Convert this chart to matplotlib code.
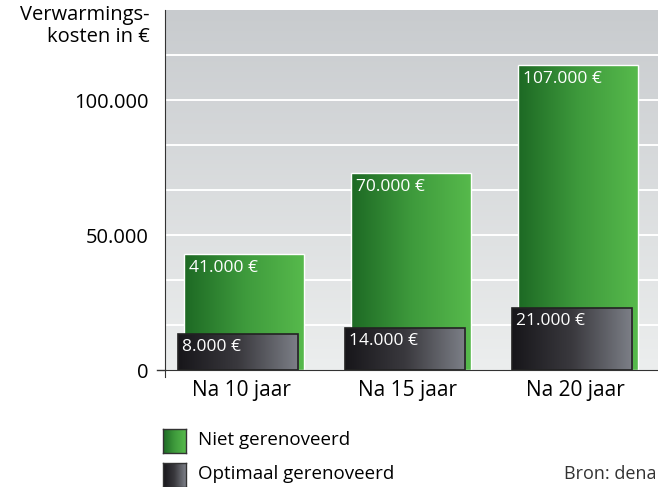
import numpy as np
import matplotlib.pyplot as plt
from matplotlib.colors import LinearSegmentedColormap
from matplotlib.patches import Rectangle

plt.rcParams['font.family'] = ['Open Sans', 'DejaVu Sans']

# data
categories = ['Na 10 jaar', 'Na 15 jaar', 'Na 20 jaar']
niet_labels = ['41.000 €', '70.000 €', '107.000 €']
optimaal_labels = ['8.000 €', '14.000 €', '21.000 €']
# bar heights as drawn in the original graphic
niet_heights = [43000, 73000, 113000]
optimaal_heights = [13300, 15500, 23000]
ytick_values = [0, 50000, 100000]
ytick_labels = ['0', '50.000', '100.000']

green_cmap = LinearSegmentedColormap.from_list('green', ['#1d6924', '#3e9a3c', '#57ba4c'])
dark_cmap = LinearSegmentedColormap.from_list('dark', ['#17161a', '#3a393e', '#7d8088'])
bg_cmap = LinearSegmentedColormap.from_list('bg', ['#eceeee', '#c8cbce'])

grad = np.linspace(0, 1, 256).reshape(1, -1)

fig = plt.figure(figsize=(6.58, 4.87), dpi=100)
ax = fig.add_axes([165 / 658, 117 / 487, 493 / 658, 360 / 487])

ymax = 400000 / 3
xlim = (-0.455, 2.497)

# background gradient
ax.imshow(np.linspace(0, 1, 256).reshape(-1, 1), cmap=bg_cmap, aspect='auto',
          extent=(xlim[0], xlim[1], 0, ymax), origin='lower', zorder=0)
for g in np.arange(1, 8) * 50000 / 3:
    ax.axhline(g, color='white', lw=1.4, zorder=1)

width = 0.72
x = np.arange(len(categories))

def gradient_bar(xc, h, cmap, edge, lw, z):
    x0 = xc - width / 2
    rect = Rectangle((x0, 0), width, h, fill=False, ec=edge, lw=lw, zorder=z + 0.5)
    ax.add_patch(rect)
    im = ax.imshow(grad, cmap=cmap, aspect='auto',
                   extent=(x0, x0 + width, -3000, h + 3000), zorder=z)
    im.set_clip_path(rect)

for i in range(len(categories)):
    gradient_bar(x[i] + 0.018, niet_heights[i], green_cmap, 'white', 1.0, 2)
    ax.text(x[i] + 0.018 - width / 2 + 0.03, niet_heights[i] - 2200, niet_labels[i],
            color='white', fontsize=12.5, va='top', ha='left', zorder=3)
for i in range(len(categories)):
    gradient_bar(x[i] - 0.016, optimaal_heights[i], dark_cmap, '#222222', 1.2, 4)
    ax.text(x[i] - 0.016 - width / 2 + 0.025, optimaal_heights[i] - 1800, optimaal_labels[i],
            color='white', fontsize=12.5, va='top', ha='left', zorder=5)

ax.set_xlim(*xlim)
ax.set_ylim(0, ymax)

for s in ['top', 'right']:
    ax.spines[s].set_visible(False)
ax.spines['left'].set_color('#333333')
ax.spines['bottom'].set_color('#333333')
ax.spines['left'].set_bounds(-2500, ymax)
ax.spines['left'].set_zorder(6)
ax.spines['bottom'].set_zorder(6)

ax.set_yticks(ytick_values)
ax.set_yticklabels(ytick_labels, fontsize=14.5)
ax.tick_params(axis='y', length=0, pad=12)
ax.plot([-0.505, -0.455], [0, 0], color='#333333', lw=1, clip_on=False, zorder=6)
ax.set_xticks(x)
ax.set_xticklabels(categories, fontsize=15)
ax.tick_params(axis='x', length=0, pad=7)

fig.text(150 / 658, 1 - 5 / 487, 'Verwarmings-\nkosten in €', ha='right', va='top',
         fontsize=14.5, linespacing=1.15)

# legend
for j, cmap in enumerate([green_cmap, dark_cmap]):
    top = 429 + j * 34
    lax = fig.add_axes([163 / 658, 1 - (top + 24) / 487, 23 / 658, 24 / 487])
    lax.imshow(grad, cmap=cmap, aspect='auto')
    lax.set_xticks([])
    lax.set_yticks([])
    for s in lax.spines.values():
        s.set_color('#333333')
        s.set_linewidth(1)
fig.text(198 / 658, 1 - 440 / 487, 'Niet gerenoveerd', fontsize=13.5, va='center', ha='left')
fig.text(198 / 658, 1 - 474 / 487, 'Optimaal gerenoveerd', fontsize=13.5, va='center', ha='left')
fig.text(657 / 658, 1 - 474 / 487, 'Bron: dena', fontsize=13, va='center', ha='right', color='#333333')

fig.savefig('out.png', dpi=100)
